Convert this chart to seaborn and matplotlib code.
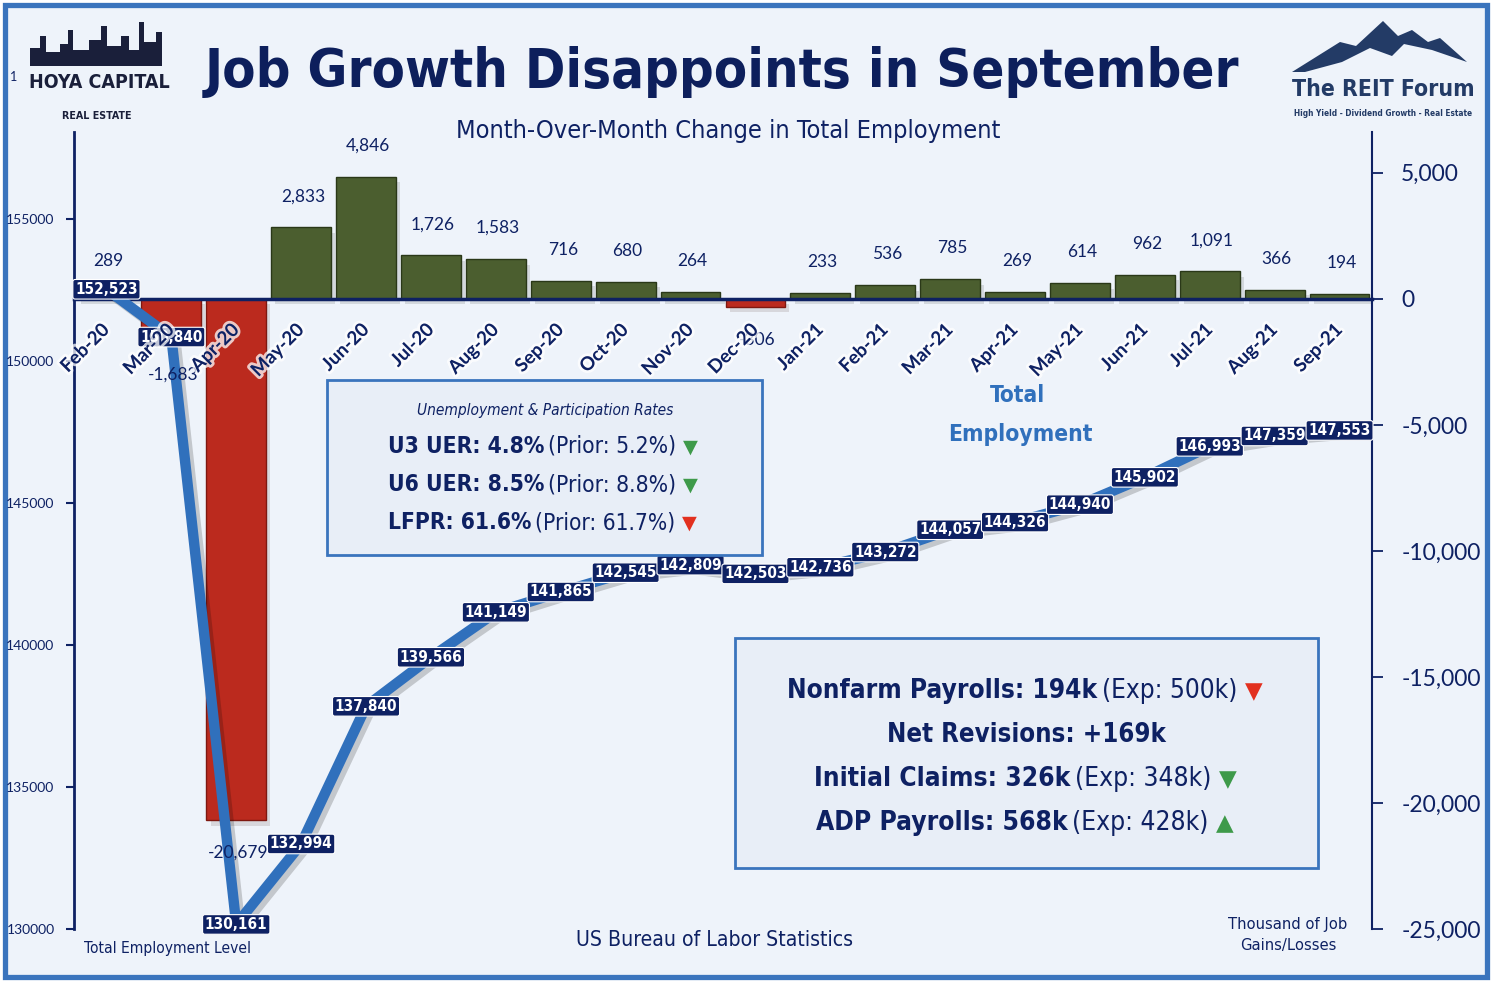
import matplotlib
matplotlib.use("Agg")
import matplotlib.pyplot as plt
import matplotlib.patheffects as pe
from matplotlib import font_manager as fm
from matplotlib.patches import Rectangle, Polygon
import seaborn as sns
import pandas as pd

# data
months = ["Feb-20", "Mar-20", "Apr-20", "May-20", "Jun-20", "Jul-20", "Aug-20",
          "Sep-20", "Oct-20", "Nov-20", "Dec-20", "Jan-21", "Feb-21", "Mar-21",
          "Apr-21", "May-21", "Jun-21", "Jul-21", "Aug-21", "Sep-21"]
job_change = [289, -1683, -20679, 2833, 4846, 1726, 1583, 716, 680, 264,
              -306, 233, 536, 785, 269, 614, 962, 1091, 366, 194]
employment = [152523, 150840, 130161, 132994, 137840, 139566, 141149, 141865,
              142545, 142809, 142503, 142736, 143272, 144057, 144326, 144940,
              145902, 146993, 147359, 147553]
left_ticks = [130000, 135000, 140000, 145000, 150000, 155000]
right_ticks = [-25000, -20000, -15000, -10000, -5000, 0, 5000]

W, H = 1492, 982
NAVY = "#0E2163"
BG = "#EEF3FA"
BORDER = "#3A74BD"
LINE_BLUE = "#3070BC"
GREEN = "#4B5E2F"
RED = "#BB2A1E"
UP_GREEN = "#3E9A4A"
DOWN_RED = "#E2301F"

# pick a condensed family if one is around
ttf = fm.fontManager.ttflist
def has(name, stretch=None):
    return any(f.name == name and (stretch is None or f.stretch == stretch) for f in ttf)

if has("Liberation Sans Narrow"):
    COND = dict(family="Liberation Sans Narrow")
elif has("DejaVu Sans Condensed"):
    COND = dict(family="DejaVu Sans Condensed")
elif has("DejaVu Sans", "condensed"):
    COND = dict(family="DejaVu Sans", fontstretch="condensed")
elif has("Roboto Condensed"):
    COND = dict(family="Roboto Condensed")
else:
    COND = dict(family="Roboto")
REG = dict(family="Lato" if has("Lato") else "DejaVu Sans")

sns.set_style("white")
plt.rcParams["font.family"] = [REG["family"], "DejaVu Sans"]


def fx(x):
    return x / W


def fy(y):
    return 1 - y / H


fig = plt.figure(figsize=(W / 100, H / 100), dpi=100)
fig.patch.set_facecolor("white")
fig.add_artist(Rectangle((5 / W, 5 / H), (W - 10) / W, (H - 10) / H,
                         transform=fig.transFigure, facecolor=BG,
                         edgecolor=BORDER, lw=3.8, zorder=-10))
renderer = fig.canvas.get_renderer()


def fit(t, target):
    w = t.get_window_extent(renderer).width
    t.set_fontsize(t.get_fontsize() * target / w)
    return t


def rich_line(y, parts, x, align="center", target=None):
    objs = [fig.text(0, fy(y), s, ha="left", va="baseline", **kw) for s, kw, g in parts]
    gaps = [g for _, _, g in parts]

    def widths():
        return [o.get_window_extent(renderer).width for o in objs]

    total = sum(widths()) + sum(gaps)
    if target:
        k = target / total
        for o in objs:
            o.set_fontsize(o.get_fontsize() * k)
        gaps = [g * k for g in gaps]
        total = sum(widths()) + sum(gaps)
    x0 = x - total / 2 if align == "center" else x
    for o, w, g in zip(objs, widths(), gaps):
        x0 += g
        o.set_x(fx(x0))
        x0 += w


# axes: bars on ax (right scale), line on ax2 (left scale)
ax = fig.add_axes([74 / W, 1 - 929 / H, (1372 - 74) / W, (929 - 132) / H])
ax.patch.set_visible(False)
ax2 = ax.twinx()
ax2.patch.set_visible(False)

df = pd.DataFrame({"month": months, "change": job_change,
                   "sign": ["gain" if v >= 0 else "loss" for v in job_change]})
sns.barplot(data=df, x="month", y="change", hue="sign",
            palette={"gain": GREEN, "loss": RED}, dodge=False, width=0.92,
            saturation=1, errorbar=None, legend=False, ax=ax, zorder=2)
for p in ax.patches:
    p.set_edgecolor("#2A3818" if p.get_height() >= 0 else "#7E1810")
    p.set_linewidth(1.0)
    p.set_path_effects([pe.SimplePatchShadow(offset=(3, -4), alpha=0.12), pe.Normal()])

sns.lineplot(x=list(range(len(employment))), y=employment, ax=ax2,
             color=LINE_BLUE, lw=7.5, solid_joinstyle="round",
             path_effects=[pe.SimpleLineShadow(offset=(3, -3), alpha=0.18), pe.Normal()])

ax.set_xlim(-0.5, len(months) - 0.5)
ax.set_ylim(-25000, 6620)
ax2.set_ylim(130000, 158060)
ax.set_xlabel("")
ax.set_ylabel("")
ax2.set_xlabel("")
ax2.set_ylabel("")

# right-hand scale for bars
ax.yaxis.tick_right()
ax.set_yticks(right_ticks)
ax.set_yticklabels([f"{v:,}" for v in right_ticks])
ax.tick_params(axis="y", direction="out", length=8, width=1.3, color=NAVY,
               labelsize=16.5, labelcolor=NAVY, pad=13)
ax.set_xticks([i + 0.5 for i in range(len(months) - 1)])
ax.set_xticklabels([])
ax.tick_params(axis="x", direction="inout", length=12, width=2, color=NAVY)
for s in ["left", "top"]:
    ax.spines[s].set_visible(False)
ax.spines["right"].set_color(NAVY)
ax.spines["right"].set_linewidth(1.5)
ax.spines["bottom"].set_position(("data", 0))
ax.spines["bottom"].set_color(NAVY)
ax.spines["bottom"].set_linewidth(2.5)
ax.spines["bottom"].set_zorder(3)

# left-hand scale for employment level
ax2.yaxis.tick_left()
ax2.set_yticks(left_ticks)
ax2.set_yticklabels([str(v) for v in left_ticks])
ax2.tick_params(axis="y", direction="out", length=6, width=1.5, color=NAVY,
                labelsize=10, labelcolor=NAVY, pad=8)
for s in ["right", "top", "bottom"]:
    ax2.spines[s].set_visible(False)
ax2.spines["left"].set_color(NAVY)
ax2.spines["left"].set_linewidth(2)

# bar value labels
for i, v in enumerate(job_change):
    ax2.annotate(f"{v:,}", (i, v), xycoords=ax.transData,
                 xytext=(2, 31 if v >= 0 else -33), textcoords="offset pixels",
                 ha="center", va="center", fontsize=12.5, color=NAVY, zorder=6, **REG)

# employment labels
for i, v in enumerate(employment):
    ax2.annotate(f"{v:,}", (i, v), ha="center", va="center", fontsize=11,
                 weight="bold", color="white", zorder=7,
                 bbox=dict(boxstyle="round,pad=0.15", fc=NAVY, ec="white", lw=0.8),
                 **COND)

# month labels along the zero line
for i, m in enumerate(months):
    ax2.annotate(m, (i, 0), xycoords=ax.transData, xytext=(0, -28),
                 textcoords="offset pixels", rotation=45, rotation_mode="anchor",
                 ha="right", va="center", fontsize=13.5, weight="bold", color=NAVY,
                 zorder=8, path_effects=[pe.withStroke(linewidth=4, foreground="#FFFFFF", alpha=0.75)])

# titles
fit(fig.text(fx(722), fy(72), "Job Growth Disappoints in September", ha="center",
             va="center", fontsize=50, weight="bold", color="#0D1F5C", **COND), 1035)
fit(fig.text(fx(728), fy(131), "Month-Over-Month Change in Total Employment",
             ha="center", va="center", fontsize=20, color=NAVY, **COND), 545)
fit(fig.text(fx(1018), fy(396), "Total", ha="center", va="center", fontsize=19,
             weight="bold", color=LINE_BLUE, **COND), 55)
fit(fig.text(fx(1020), fy(434), "Employment", ha="center", va="center", fontsize=19,
             weight="bold", color=LINE_BLUE, **COND), 144)

# bottom notes
fit(fig.text(fx(84), fy(949), "Total Employment Level", ha="left", va="center",
             fontsize=13, color=NAVY, **COND), 166)
fit(fig.text(fx(715), fy(940), "US Bureau of Labor Statistics", ha="center",
             va="center", fontsize=17, color=NAVY, **COND), 276)
fig.text(fx(1288), fy(935), "Thousand of Job\nGains/Losses", ha="center",
         va="center", fontsize=11.8, color=NAVY, linespacing=1.55, **COND)
fig.text(fx(14), fy(77), "1", ha="center", va="center", fontsize=9, color=NAVY, **REG)

# rates box
fig.add_artist(Rectangle((fx(327), fy(555)), (762 - 327) / W, (555 - 380) / H,
                         transform=fig.transFigure, facecolor="#E8EEF7",
                         edgecolor=BORDER, lw=2, zorder=4))
fit(fig.text(fx(545), fy(410), "Unemployment & Participation Rates", ha="center",
             va="center", fontsize=13, style="italic", color=NAVY, zorder=5, **COND), 255)
B1 = dict(fontsize=20, weight="bold", color=NAVY, zorder=5, **COND)
R1 = dict(fontsize=20, color=NAVY, zorder=5, **COND)
rate_lines = [("U3 UER: 4.8%", "(Prior: 5.2%)", "▼", UP_GREEN, 453, 309),
              ("U6 UER: 8.5%", "(Prior: 8.8%)", "▼", UP_GREEN, 491, 309),
              ("LFPR: 61.6%", "(Prior: 61.7%)", "▼", DOWN_RED, 529, 309)]
for b, r, tri, c, y, tw in rate_lines:
    rich_line(y, [(b, B1, 0), (r, R1, 5),
                  (tri, dict(fontsize=17, color=c, family="DejaVu Sans", zorder=5), 8)],
              388, align="left", target=tw)

# payrolls box
fig.add_artist(Rectangle((fx(735), fy(868)), (1318 - 735) / W, (868 - 638) / H,
                         transform=fig.transFigure, facecolor="#E8EEF7",
                         edgecolor=BORDER, lw=2, zorder=4))
B2 = dict(fontsize=25, weight="bold", color=NAVY, zorder=5, **COND)
R2 = dict(fontsize=25, color=NAVY, zorder=5, **COND)
pay_lines = [("Nonfarm Payrolls: 194k", "(Exp: 500k)", "▼", DOWN_RED, 698, 476),
             ("Initial Claims: 326k", "(Exp: 348k)", "▼", UP_GREEN, 786, 424),
             ("ADP Payrolls: 568k", "(Exp: 428k)", "▲", UP_GREEN, 830, 417)]
for b, r, tri, c, y, tw in pay_lines:
    rich_line(y, [(b, B2, 0), (r, R2, 6),
                  (tri, dict(fontsize=22, color=c, family="DejaVu Sans", zorder=5), 10)],
              1025, target=tw)
rich_line(742, [("Net Revisions: +169k", B2, 0)], 1026, target=278)

# logos
fit(fig.text(fx(99), fy(83), "HOYA CAPITAL", ha="center", va="center",
             fontsize=30, weight="bold", color="#1A1F3A", **COND), 140)
fit(fig.text(fx(97), fy(116), "REAL ESTATE", ha="center", va="center",
             fontsize=14, weight="bold", color="#1A1F3A", **COND), 70)
skyline = [(30, 10, 18), (40, 6, 30), (46, 14, 14), (60, 8, 22), (68, 5, 36),
           (73, 16, 16), (89, 12, 26), (101, 6, 40), (107, 14, 20), (121, 8, 30),
           (129, 10, 16), (139, 5, 44), (144, 12, 24), (156, 6, 34)]
for x0, w0, h0 in skyline:
    fig.add_artist(Rectangle((fx(x0), fy(66)), w0 / W, h0 / H,
                             transform=fig.transFigure, color="#1A1F3A", lw=0))
mountain = [(1292, 72), (1340, 42), (1356, 46), (1383, 21), (1398, 36), (1412, 30),
            (1428, 42), (1440, 38), (1467, 62), (1432, 50), (1404, 44), (1392, 56),
            (1370, 48), (1342, 62), (1305, 72)]
fig.add_artist(Polygon([(fx(a), fy(b)) for a, b in mountain], closed=True,
                       transform=fig.transFigure, color="#233B66", lw=0))
fit(fig.text(fx(1383), fy(90), "The REIT Forum", ha="center", va="center",
             fontsize=20, weight="bold", color="#233B66", **COND), 182)
fit(fig.text(fx(1383), fy(114), "High Yield - Dividend Growth - Real Estate",
             ha="center", va="center", fontsize=7, weight="bold", color="#233B66",
             **COND), 179)

fig.savefig("out.png", dpi=100)
